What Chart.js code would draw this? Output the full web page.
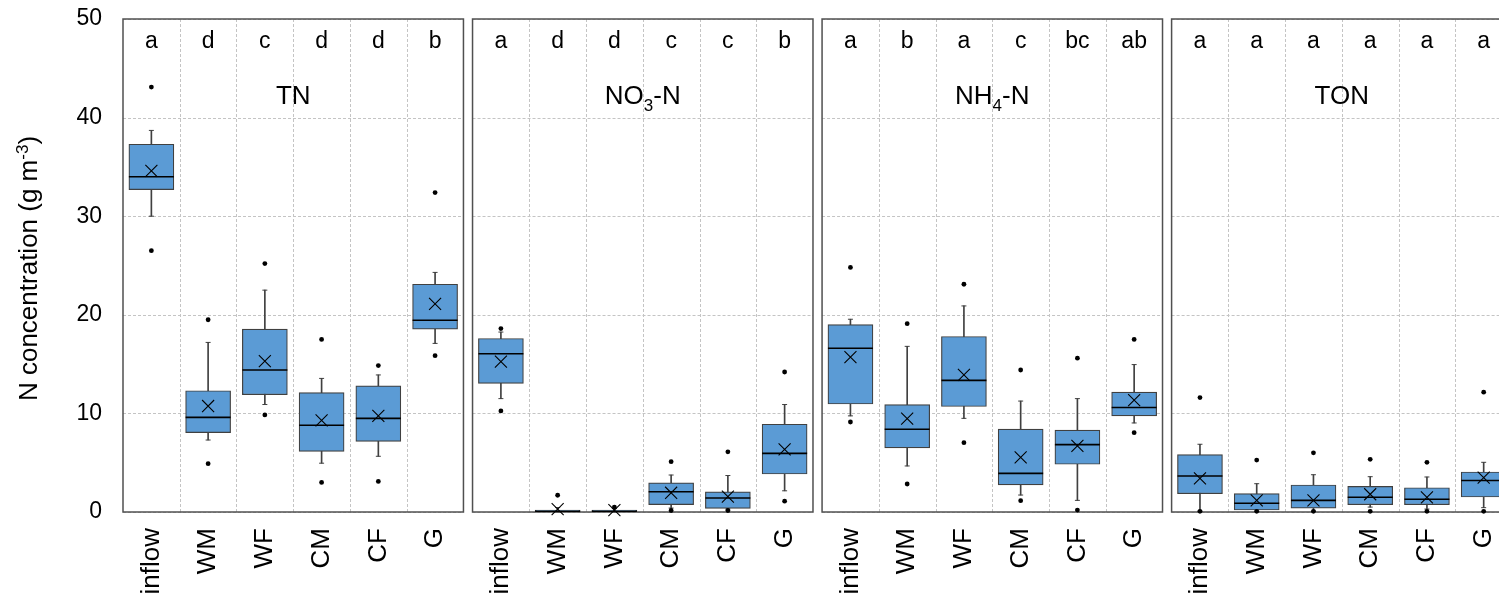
<!DOCTYPE html>
<html>
<head>
<meta charset="utf-8">
<script src="https://cdn.jsdelivr.net/npm/chart.js@4.4.1/dist/chart.umd.min.js"></script>
<style>
    html, body { margin: 0; padding: 0; background: #fff; overflow: hidden; }
    #wrap { position: relative; width: 1499px; height: 600px; overflow: hidden; }
</style>
</head>
<body>
<div id="wrap"><canvas id="graf" width="1499" height="600"></canvas></div>
<script>
// Categorias e painéis
const categories = ['inflow', 'WM', 'WF', 'CM', 'CF', 'G'];
const panelNames = ['TN', 'NO3-N', 'NH4-N', 'TON'];
const panelLetters = [
    ['a', 'd', 'c', 'd', 'd', 'b'],
    ['a', 'd', 'd', 'c', 'c', 'b'],
    ['a', 'b', 'a', 'c', 'bc', 'ab'],
    ['a', 'a', 'a', 'a', 'a', 'a']
];
const yTicks = [0, 10, 20, 30, 40, 50];

// TN
const tnMin     = [30.0, 7.3, 10.9, 4.95, 5.65, 17.1];
const tnQ1      = [32.7, 8.05, 11.9, 6.15, 7.17, 18.55];
const tnMedian  = [34.0, 9.6, 14.4, 8.8, 9.5, 19.45];
const tnQ3      = [37.3, 12.3, 18.55, 12.1, 12.8, 23.1];
const tnMax     = [38.7, 17.2, 22.5, 13.55, 13.9, 24.3];
const tnMean    = [34.6, 10.75, 15.3, 9.3, 9.75, 21.1];
const tnOut     = [[43.1, 26.5], [19.5, 4.9], [25.2, 9.85], [17.5, 3.0], [14.85, 3.1], [32.4, 15.85]];

// NO3-N
const no3Min    = [11.5, 0, 0, 0.4, 0.3, 2.15];
const no3Q1     = [13.05, 0.02, 0.02, 0.75, 0.37, 3.85];
const no3Median = [16.05, 0.08, 0.08, 2.05, 1.42, 5.95];
const no3Q3     = [17.6, 0.2, 0.2, 2.95, 2.05, 8.9];
const no3Max    = [18.25, 0.45, 0.35, 3.75, 3.7, 10.9];
const no3Mean   = [15.25, 0.3, 0.2, 1.95, 1.55, 6.35];
const no3Out    = [[18.6, 10.25], [1.7], [0.5], [5.1, 0.15], [6.1, 0.15], [14.2, 1.1]];

// NH4-N
const nh4Min    = [9.75, 4.67, 9.5, 1.72, 1.18, 9.03];
const nh4Q1     = [10.95, 6.5, 10.7, 2.74, 4.84, 9.74];
const nh4Median = [16.6, 8.4, 13.35, 3.92, 6.83, 10.6];
const nh4Q3     = [19.0, 10.9, 17.8, 8.4, 8.3, 12.15];
const nh4Max    = [19.55, 16.8, 20.9, 11.25, 11.5, 14.95];
const nh4Mean   = [15.7, 9.46, 13.9, 5.55, 6.7, 11.35];
const nh4Out    = [[24.8, 9.13], [19.1, 2.84], [23.1, 7.03], [14.4, 1.15], [15.6, 0.2], [17.5, 8.05]];

// TON
const tonMin    = [0.1, 0.1, 0.1, 0.5, 0.3, 0.44];
const tonQ1     = [1.86, 0.2, 0.4, 0.74, 0.74, 1.52];
const tonMedian = [3.65, 0.88, 1.18, 1.49, 1.29, 3.2];
const tonQ3     = [5.82, 1.86, 2.74, 2.6, 2.46, 4.06];
const tonMax    = [6.87, 2.87, 3.78, 3.58, 3.55, 5.04];
const tonMean   = [3.42, 1.18, 1.18, 1.8, 1.49, 3.48];
const tonOut    = [[11.6, 0.07], [5.27, 0.07], [6.0, 0.07], [5.34, 0.07], [5.04, 0.07], [12.15, 0.07]];

const panelStats = [
    [tnMin, tnQ1, tnMedian, tnQ3, tnMax, tnMean, tnOut],
    [no3Min, no3Q1, no3Median, no3Q3, no3Max, no3Mean, no3Out],
    [nh4Min, nh4Q1, nh4Median, nh4Q3, nh4Max, nh4Mean, nh4Out],
    [tonMin, tonQ1, tonMedian, tonQ3, tonMax, tonMean, tonOut]
];

const FONT = "'Liberation Sans', Arial, sans-serif";
const PITCH = 6.16;   // distância entre painéis (em larguras de categoria)
const X_MAX = 24.25;  // o último painel é cortado pela borda da figura
const xPos = (p, i) => p * PITCH + i + 0.5;

// Monta os dados para o Chart.js
const whiskerData = [], boxData = [], medianData = [], meanData = [], capData = [], outlierData = [];
const tickPositions = [];
panelStats.forEach((s, p) => {
    const [mn, q1, med, q3, mx, mean, out] = s;
    categories.forEach((c, i) => {
        const x = xPos(p, i);
        tickPositions.push(x);
        whiskerData.push({ x: x, y: [mn[i], mx[i]] });
        boxData.push({ x: x, y: [q1[i], q3[i]] });
        medianData.push({ x: x, y: med[i] });
        meanData.push({ x: x, y: mean[i] });
        capData.push({ x: x, y: mn[i] }, { x: x, y: mx[i] });
        out[i].forEach(v => outlierData.push({ x: x, y: v }));
    });
});

// Texto com subscrito / sobrescrito
function drawParts(ctx, parts, cx, baseline, size) {
    const small = Math.round(size * 0.66);
    let total = 0;
    parts.forEach(pt => {
        ctx.font = (pt.s ? small : size) + 'px ' + FONT;
        pt.w = ctx.measureText(pt.t).width;
        total += pt.w;
    });
    let x = cx - total / 2;
    parts.forEach(pt => {
        ctx.font = (pt.s ? small : size) + 'px ' + FONT;
        const dy = pt.s === 'sub' ? size * 0.27 : (pt.s === 'sup' ? -size * 0.36 : 0);
        ctx.fillText(pt.t, x, baseline + dy);
        x += pt.w;
    });
}
function splitName(name) {
    return name.split(/(\d+)/).filter(t => t).map(t => ({ t: t, s: /\d/.test(t) ? 'sub' : null }));
}

const panelPlugin = {
    id: 'panels',
    beforeDatasetsDraw(chart) {
        const { ctx, chartArea, scales: { x, y } } = chart;
        ctx.save();
        panelNames.forEach((name, p) => {
            const left = x.getPixelForValue(p * PITCH);
            const right = x.getPixelForValue(p * PITCH + categories.length);
            ctx.setLineDash([3, 2]);
            ctx.strokeStyle = '#c4c4c4';
            ctx.lineWidth = 1;
            yTicks.forEach(v => {
                const py = Math.round(y.getPixelForValue(v)) + 0.5;
                ctx.beginPath(); ctx.moveTo(left, py); ctx.lineTo(right, py); ctx.stroke();
            });
            for (let i = 1; i < categories.length; i++) {
                const px = Math.round(x.getPixelForValue(p * PITCH + i)) + 0.5;
                ctx.beginPath(); ctx.moveTo(px, chartArea.top); ctx.lineTo(px, chartArea.bottom); ctx.stroke();
            }
            ctx.setLineDash([]);
            ctx.strokeStyle = '#505050';
            ctx.lineWidth = 1.5;
            ctx.strokeRect(left, chartArea.top, right - left, chartArea.bottom - chartArea.top);
        });
        ctx.restore();
    },
    afterDatasetsDraw(chart) {
        const { ctx, chartArea, scales: { x } } = chart;
        ctx.save();
        ctx.fillStyle = '#000';
        ctx.textBaseline = 'alphabetic';
        ctx.textAlign = 'left';
        panelNames.forEach((name, p) => {
            panelLetters[p].forEach((l, i) => {
                drawParts(ctx, [{ t: l }], x.getPixelForValue(xPos(p, i)), chartArea.top + 29, 23);
            });
            const cx = x.getPixelForValue(p * PITCH + categories.length / 2);
            drawParts(ctx, splitName(name), cx, chartArea.top + 85, 26);
        });
        // título do eixo y
        ctx.translate(37, (chartArea.top + chartArea.bottom) / 2 + 3);
        ctx.rotate(-Math.PI / 2);
        drawParts(ctx, [{ t: 'N concentration (g m' }, { t: '-3', s: 'sup' }, { t: ')' }], 0, 0, 26);
        ctx.restore();
    }
};

const chart = new Chart(document.getElementById('graf'), {
    type: 'bar',
    data: {
        datasets: [
            {
                type: 'scatter', label: 'outliers', data: outlierData, order: 0, clip: false,
                pointStyle: 'circle', pointRadius: 2.4, pointBackgroundColor: '#000', pointBorderWidth: 0
            },
            {
                type: 'scatter', label: 'mean', data: meanData, order: 1, clip: false,
                pointStyle: 'crossRot', pointRadius: 8.5, pointBorderColor: '#000', pointBorderWidth: 1.1,
                pointBackgroundColor: 'transparent'
            },
            {
                type: 'scatter', label: 'median', data: medianData, order: 2, clip: false,
                pointStyle: 'line', pointRadius: 22.5, pointBorderColor: '#000', pointBorderWidth: 1.6
            },
            {
                type: 'bar', label: 'box', data: boxData, order: 3, grouped: false,
                backgroundColor: '#5B9BD5', borderColor: '#404040', borderWidth: 1.2,
                borderSkipped: false, barThickness: 45
            },
            {
                type: 'scatter', label: 'caps', data: capData, order: 4, clip: false,
                pointStyle: 'line', pointRadius: 2.5, pointBorderColor: '#404040', pointBorderWidth: 1
            },
            {
                type: 'bar', label: 'whisker', data: whiskerData, order: 5, grouped: false,
                backgroundColor: '#404040', borderWidth: 0, barThickness: 1
            }
        ]
    },
    options: {
        responsive: false,
        maintainAspectRatio: false,
        animation: false,
        events: [],
        layout: { autoPadding: false, padding: { top: 19, right: 0, bottom: 0, left: 0 } },
        plugins: { legend: { display: false }, tooltip: { enabled: false } },
        scales: {
            x: {
                type: 'linear',
                min: 0,
                max: X_MAX,
                offset: false,
                bounds: 'data',
                grid: { display: false, drawTicks: true, tickLength: 16 },
                border: { display: false },
                afterBuildTicks: scale => { scale.ticks = tickPositions.map(v => ({ value: v })); },
                afterFit: scale => {
                    scale.height = 88;
                    scale.paddingLeft = 0;
                    scale.paddingRight = 0;
                },
                ticks: {
                    autoSkip: false,
                    minRotation: 90,
                    maxRotation: 90,
                    padding: 0,
                    color: '#000',
                    font: { family: FONT, size: 26 },
                    callback: (value, index) => categories[index % categories.length]
                }
            },
            y: {
                min: 0,
                max: 50,
                grid: { display: false, drawTicks: true, tickLength: 18 },
                border: { display: false },
                afterFit: scale => {
                    scale.width = 123;
                    scale.paddingTop = 0;
                    scale.paddingBottom = 0;
                },
                ticks: {
                    stepSize: 10,
                    padding: 3,
                    color: '#000',
                    font: { family: FONT, size: 23 }
                }
            }
        }
    },
    plugins: [panelPlugin]
});
</script>
</body>
</html>
